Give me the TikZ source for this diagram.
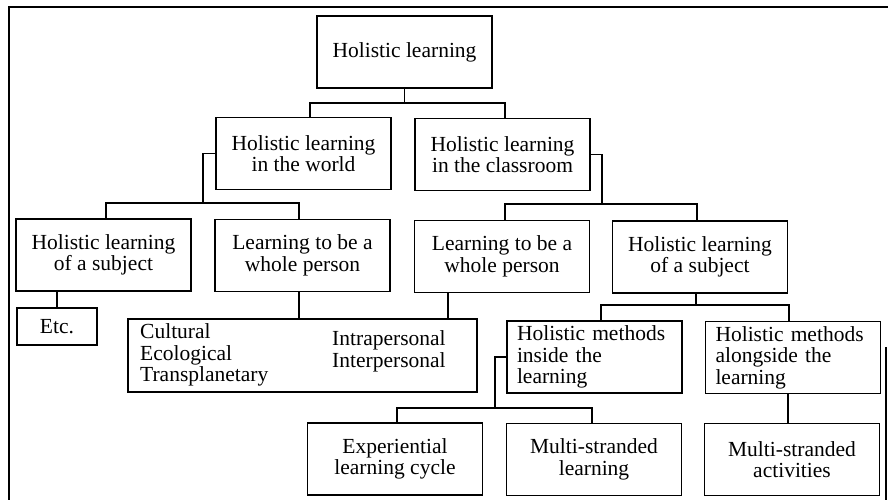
\documentclass[tikz,border=0pt]{standalone}
\usepackage{fontspec}
\setmainfont{Liberation Serif}
\begin{document}
\begin{tikzpicture}[x=1pt,y=-1pt,
  txt/.style={font=\fontsize{21.5}{21.5}\selectfont},
  bx/.style={txt,draw,line width=1.3pt,minimum width=175pt,minimum height=72pt,inner sep=2pt,align=center},
  lbx/.style={txt,draw,line width=1.3pt,minimum height=72pt,text width=155pt,inner xsep=10pt,align=left},
  conn/.style={line width=1.3pt}]
\useasboundingbox (0,0) rectangle (888,500);
% frame
\draw[conn] (9,500) -- (9,7) -- (888,7);
\draw[conn] (886,347) -- (886,500);
% boxes
\node[bx] (root) at (404.5,52) {Holistic learning};
\node[bx] (world) at (303.5,153.5) {Holistic learning\\in the world};
\node[bx] (class) at (502.5,154.5) {Holistic learning\\in the classroom};
\node[bx] (lsub) at (103.5,255) {Holistic learning\\of a subject};
\node[bx] (lwhole) at (302.5,255.5) {Learning to be a\\whole person};
\node[bx] (rwhole) at (502,256.5) {Learning to be a\\whole person};
\node[bx] (rsub) at (700,257) {Holistic learning\\of a subject};
\node[bx,minimum width=80pt,minimum height=37pt] (etc) at (57,326.5) {Etc.};
\node[bx,minimum width=349pt,minimum height=73pt] (dims) at (302.5,355.5) {};
\node[txt,align=left,anchor=west,inner sep=0pt] (dimsA) at (140,355) {Cultural\\Ecological\\Transplanetary};
\node[txt,align=left,anchor=west,inner sep=0pt] (dimsB) at (332,351.5) {Intrapersonal\\Interpersonal};
\node[lbx] (inside) at (594.5,357) {Holistic methods\\inside the\\learning};
\node[lbx] (along) at (793,357.5) {Holistic methods\\alongside the\\learning};
\node[bx] (exper) at (395,459) {Experiential\\learning cycle};
\node[bx] (mstrand) at (594,459.5) {Multi-stranded\\learning};
\node[bx] (mact) at (792,459.5) {Multi-stranded\\activities};
% junctions
\coordinate (j1) at (404.5,103);
\coordinate (j2) at (203,203);
\coordinate (j3) at (602,204);
\coordinate (j4) at (696,305);
\coordinate (j5) at (495,408);
% connectors
\draw[conn] (root.south) -- (j1);
\draw[conn] ([xshift=6.5pt]world.north) |- (j1) -| ([xshift=2.5pt]class.north);
\draw[conn] (world.west) -| (j2);
\draw[conn] ([xshift=2.5pt]lsub.north) |- (j2) -| ([xshift=-3.5pt]lwhole.north);
\draw[conn] (class.east) -| (j3);
\draw[conn] ([xshift=3pt]rwhole.north) |- (j3) -| ([xshift=-3pt]rsub.north);
\draw[conn] (etc.north) -- (etc.north |- lsub.south);
\draw[conn] ([xshift=-3.5pt]lwhole.south) -- ([xshift=-3.5pt]lwhole.south |- dims.north);
\draw[conn] ([xshift=-54pt]rwhole.south) -- ([xshift=-54pt]rwhole.south |- dims.north);
\draw[conn] ([xshift=-4pt]rsub.south) -- (j4);
\draw[conn] ([xshift=6.5pt]inside.north) |- (j4) -| ([xshift=-4pt]along.north);
\draw[conn] (inside.west) -| (j5);
\draw[conn] ([xshift=2pt]exper.north) |- (j5) -| ([xshift=-2pt]mstrand.north);
\draw[conn] ([xshift=-5pt]along.south) -- ([xshift=-5pt]along.south |- mact.north);
\end{tikzpicture}
\end{document}
